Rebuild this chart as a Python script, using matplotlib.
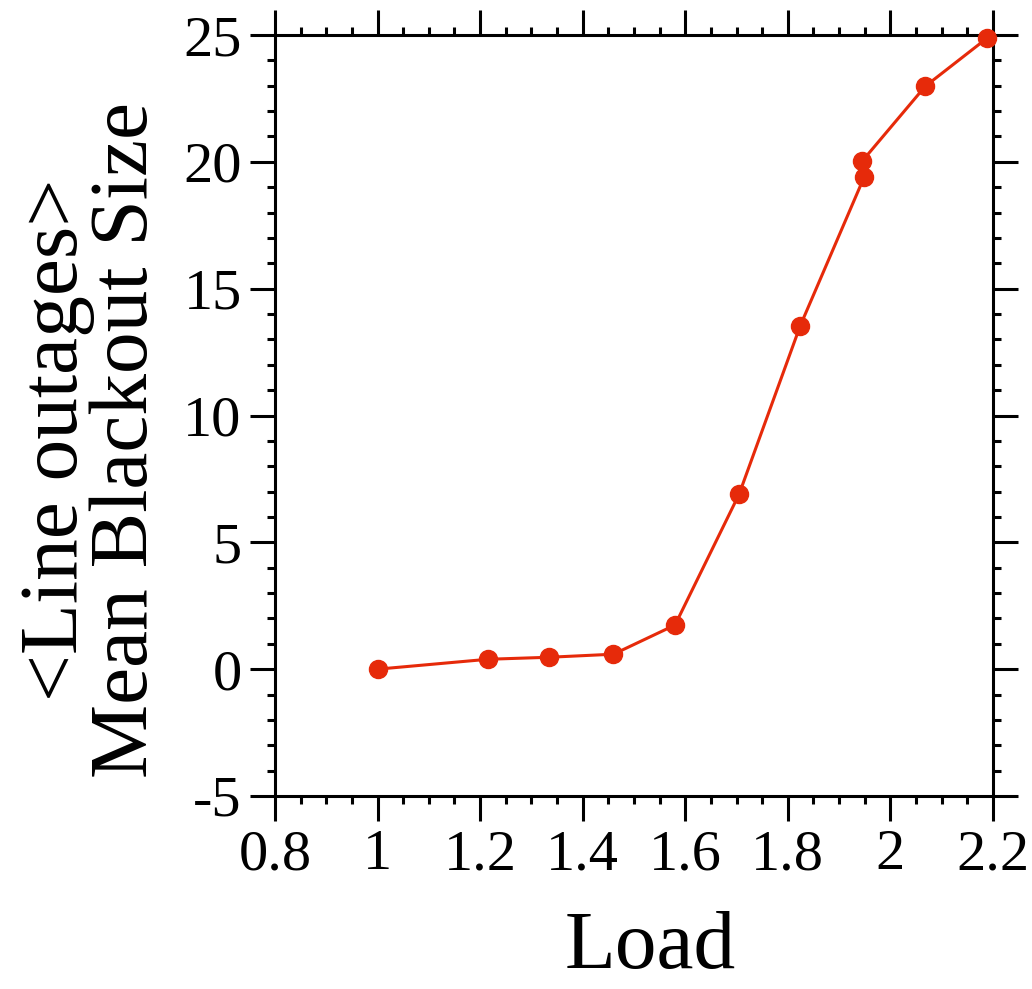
import matplotlib
matplotlib.use("Agg")
import matplotlib.pyplot as plt
from matplotlib.ticker import MultipleLocator, FormatStrFormatter

plt.rcParams['font.family'] = ['Liberation Serif', 'DejaVu Serif']
plt.rcParams['axes.unicode_minus'] = False

# load vs mean blackout size (line outages)
load = [1.0, 1.215, 1.335, 1.46, 1.58, 1.705, 1.824, 1.949, 1.945, 2.068, 2.188]
size = [0.0, 0.39, 0.47, 0.59, 1.74, 6.9, 13.53, 19.41, 20.03, 22.98, 24.87]

red = '#e62a0a'

fig = plt.figure(figsize=(10.32, 9.89), dpi=100)
ax = fig.add_axes([275/1032, 1-796/989, (993-275)/1032, (796-35)/989])

ax.plot(load, size, '-o', color=red, lw=2.2, ms=13, clip_on=False, zorder=3)

ax.set_xlim(0.8, 2.2)
ax.set_ylim(-5, 25)
ax.xaxis.set_major_locator(MultipleLocator(0.2))
ax.xaxis.set_minor_locator(MultipleLocator(0.05))
ax.yaxis.set_major_locator(MultipleLocator(5))
ax.yaxis.set_minor_locator(MultipleLocator(1))
ax.xaxis.set_major_formatter(FormatStrFormatter('%g'))
ax.yaxis.set_major_formatter(FormatStrFormatter('%g'))

for s in ax.spines.values():
    s.set_linewidth(2.2)
ax.tick_params(which='both', direction='out', top=True, right=True,
               width=2.2, labelsize=42)
ax.tick_params(which='major', length=18, pad=6)
ax.tick_params(which='minor', length=5.5)

fig.text(92/1032, 1-440/989, '<Line outages>\nMean Blackout Size', rotation=90,
         ha='center', va='center', multialignment='center', fontsize=60,
         linespacing=0.9)
fig.text(650/1032, 0.003, 'Load', ha='center', va='bottom', fontsize=60)

fig.savefig('out.png', dpi=100)
